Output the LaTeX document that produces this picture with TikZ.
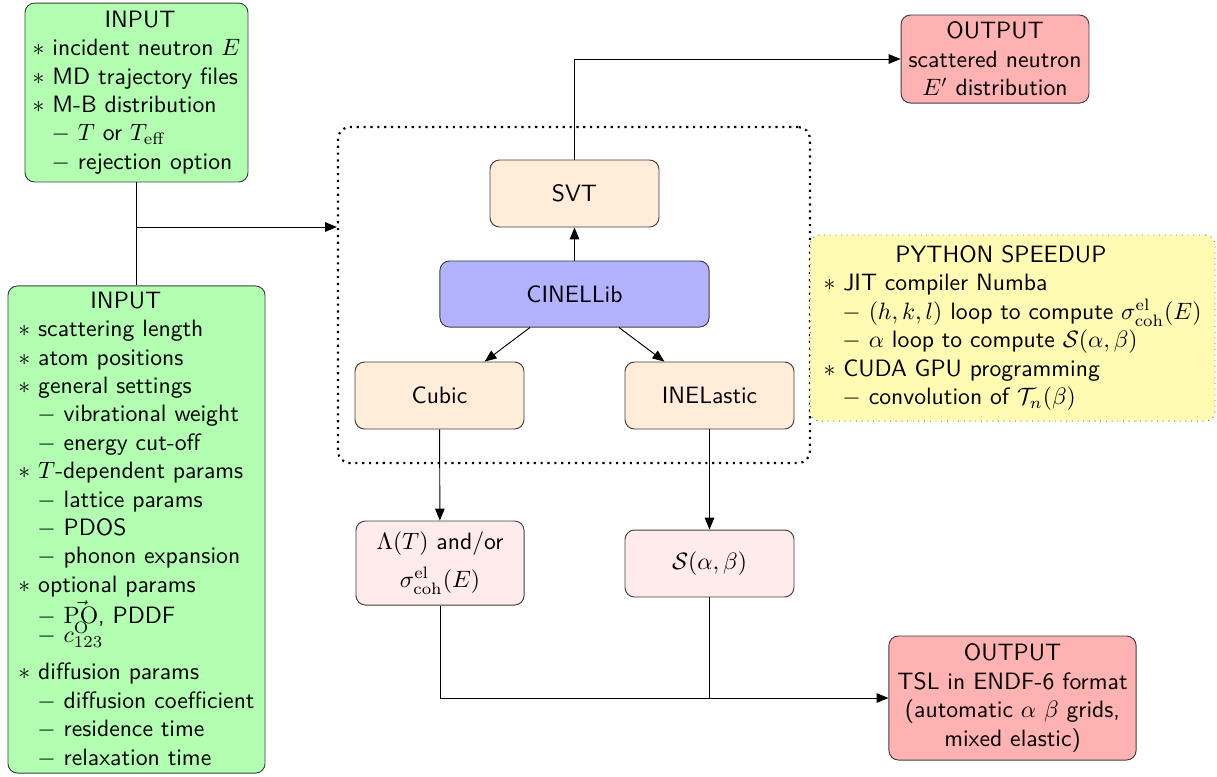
\documentclass[tikz,border=0pt]{standalone}
\usetikzlibrary{arrows.meta,positioning}
\begin{document}
\begin{tikzpicture}[x=0.4225pt,y=-0.4225pt,
  font=\sffamily,
  box/.style={draw=black!75,rounded corners=4pt,inner sep=1pt},
  green box/.style={box,fill=green!30,align=left},
  code box/.style={box,fill=orange!15,minimum width=71.4pt,minimum height=28.3pt},
  res box/.style={box,fill=red!8,align=center},
  out box/.style={box,fill=red!30,align=center},
  arr/.style={-{Triangle[length=5pt,width=4pt]}},
]
\useasboundingbox (0,0) rectangle (1217,776);

% left input boxes
\node[green box,minimum width=94.2pt,minimum height=75.6pt] (in1) at (136.5,92.5)
 {\hspace*{30.4pt}INPUT\\
  $\ast$ incident neutron $E$\\
  $\ast$ MD trajectory files\\
  $\ast$ M-B distribution\\
  \hspace*{8pt}$-$ $T$ or $T_{\mathrm{eff}}$\\
  \hspace*{8pt}$-$ rejection option};

\node[green box,minimum width=108.6pt,minimum height=205.8pt] (in2) at (136.5,529.5)
 {\hspace*{30.4pt}INPUT\\
  $\ast$ scattering length\\
  $\ast$ atom positions\\
  $\ast$ general settings\\
  \hspace*{8pt}$-$ vibrational weight\\
  \hspace*{8pt}$-$ energy cut-off\\
  $\ast$ $T$-dependent params\\
  \hspace*{8pt}$-$ lattice params\\
  \hspace*{8pt}$-$ PDOS\\
  \hspace*{8pt}$-$ phonon expansion\\
  $\ast$ optional params\\[1pt]
  \hspace*{8pt}$-$ $\vec{\mathrm{PO}}$, PDDF\\[-4pt]
  \hspace*{8pt}$-$ $c_{123}^{\mathrm{O}}$\\[4pt]
  $\ast$ diffusion params\\
  \hspace*{8pt}$-$ diffusion coefficient\\
  \hspace*{8pt}$-$ residence time\\
  \hspace*{8pt}$-$ relaxation time};

% dotted library frame
\node[draw,dotted,line width=0.9pt,rounded corners=5pt,minimum width=199.4pt,minimum height=142pt] (frame) at (574,295) {};

% library nodes
\node[code box] (svt) at (574.5,193.5) {SVT};
\node[box,fill=blue!30,minimum width=113.7pt,minimum height=27.9pt] (lib) at (574.5,294) {CINELLib};
\node[code box] (cubic) at (439.5,395.5) {Cubic};
\node[code box] (inel) at (709.5,395.5) {INELastic};

% results
\node[res box,minimum width=71pt,minimum height=35.5pt] (lam) at (440,563)
 {$\Lambda(T)$ and/or\\[4pt] $\sigma_{\mathrm{coh}}^{\mathrm{el}}(E)$};
\node[res box,minimum width=71.4pt,minimum height=28.3pt] (sab) at (709.5,563.5)
 {$\mathcal{S}(\alpha,\beta)$};

% outputs
\node[out box,minimum width=79.4pt,minimum height=37.2pt] (out1) at (995,59)
 {OUTPUT\\ scattered neutron\\ $E'$ distribution};
\node[out box,minimum width=104.4pt,minimum height=52.4pt] (out2) at (1012.5,698)
 {OUTPUT\\ TSL in ENDF-6 format\\ (automatic $\alpha$ $\beta$ grids,\\ mixed elastic)};

% python speedup
\node[draw=black!55,dotted,fill=yellow!30,rounded corners=4pt,inner sep=1pt,align=left,
      minimum width=171.1pt,minimum height=78.6pt] (py) at (1012.5,328)
 {\hspace*{30.4pt}PYTHON SPEEDUP\\
  $\ast$ JIT compiler Numba\\
  \hspace*{8pt}$-$ $(h,k,l)$ loop to compute $\sigma_{\mathrm{coh}}^{\mathrm{el}}(E)$\\
  \hspace*{8pt}$-$ $\alpha$ loop to compute $\mathcal{S}(\alpha,\beta)$\\
  $\ast$ CUDA GPU programming\\
  \hspace*{8pt}$-$ convolution of $\mathcal{T}_n(\beta)$};

% connectors
\coordinate (j) at (136.5,227);
\draw (in1.south) -- (in2.north);
\draw[arr] (j) -- (j -| frame.west);
\draw[arr] (lib) -- (svt);
\draw[arr] (lib) -- (cubic);
\draw[arr] (lib) -- (inel);
\draw[arr] (svt.north) |- (out1.west);
\draw[arr] (cubic) -- (lam);
\draw[arr] (inel) -- (sab);
\draw[arr] (lam.south) |- (out2.west);
\draw (sab.south) -- (sab.south |- out2.west);
\end{tikzpicture}
\end{document}
